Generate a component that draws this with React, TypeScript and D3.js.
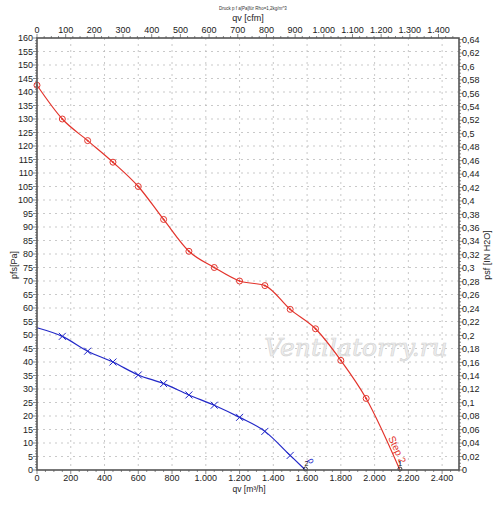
import React from 'react';
import * as d3 from 'd3';

// m³/h flow values of the measured points
const redFlow = [0, 150, 300, 450, 600, 750, 900, 1050, 1200, 1350, 1500, 1650, 1800, 1950, 2150];
const redPressure = [142.5, 130, 122, 114, 105, 92.8, 81, 75, 70, 68.3, 59.5, 52.3, 40.6, 26.5, 0];
const blueFlow = [0, 150, 300, 450, 600, 750, 900, 1050, 1200, 1350, 1500, 1590];
const bluePressure = [52.7, 49.5, 44, 40, 35.2, 32, 27.8, 24, 19.5, 14.3, 5.4, 0];

const flowTicks = [0, 200, 400, 600, 800, 1000, 1200, 1400, 1600, 1800, 2000, 2200, 2400];
const cfmTicks = [0, 100, 200, 300, 400, 500, 600, 700, 800, 900, 1000, 1100, 1200, 1300, 1400];
const paTicks = d3.range(0, 161, 5);
const inchTicks = d3.range(0, 33).map((i) => i * 0.02);

const W = 500;
const H = 506;
const m = { left: 37, right: 459, top: 38, bottom: 470 };
const FONT = 'Liberation Sans, Arial, sans-serif';

const x = d3.scaleLinear([0, 2500], [m.left, m.right]);
const xCfm = d3.scaleLinear([0, 2500 / 1.699], [m.left, m.right]);
const y = d3.scaleLinear([0, 160], [m.bottom, m.top]);
const yIn = d3.scaleLinear([0, 160 / 249.089], [m.bottom, m.top]);

const fmtThousand = (v: number) => (v >= 1000 ? d3.format(',')(v).replace(',', '.') : String(v));
const fmtComma = (v: number) => String(+v.toFixed(2)).replace('.', ',');

const line = d3
  .line<[number, number]>()
  .x((d) => x(d[0]))
  .y((d) => y(d[1]))
  .curve(d3.curveMonotoneX);

export default function App() {
  const red: [number, number][] = redFlow.map((f, i) => [f, redPressure[i]]);
  const blue: [number, number][] = blueFlow.map((f, i) => [f, bluePressure[i]]);
  const redCol = '#e3342c';
  const blueCol = '#2228c8';
  const axisCol = '#555';

  return (
    <svg width={W} height={H} style={{ position: 'absolute', left: 0, top: 0 }} fontFamily={FONT}>
      <rect width={W} height={H} fill="#fff" />
      <text x={253} y={10} fontSize={4.5} textAnchor="middle" fill="#333">
        Druck p f a[Pa]für Rho=1,2kg/m^3
      </text>
      <text x={248} y={21} fontSize={9} textAnchor="middle" fill="#222">
        qv [cfm]
      </text>

      {/* grid */}
      <g stroke="#bbb" strokeWidth={0.8} strokeDasharray="2,4">
        {flowTicks.slice(1).map((t) => (
          <line key={'gx' + t} x1={x(t)} x2={x(t)} y1={m.top} y2={m.bottom} />
        ))}
        {paTicks.slice(1, -1).map((t) => (
          <line key={'gy' + t} x1={m.left} x2={m.right} y1={y(t)} y2={y(t)} />
        ))}
      </g>

      {/* watermark */}
      <text
        x={356}
        y={356}
        fontSize={25}
        fontStyle="italic"
        fontFamily="DejaVu Serif, serif"
        textAnchor="middle"
        fill="#ededed"
        stroke="#d2d2d2"
        strokeWidth={0.6}
      >
        Ventilatorry.ru
      </text>

      {/* curves */}
      <path d={line(red) || ''} fill="none" stroke={redCol} strokeWidth={1.2} />
      <path d={line(blue) || ''} fill="none" stroke={blueCol} strokeWidth={1.2} />
      {red.slice(0, -1).map((d, i) => (
        <g key={'r' + i} stroke={redCol} fill="none" strokeWidth={1}>
          <circle cx={x(d[0])} cy={y(d[1])} r={3} />
          <circle cx={x(d[0])} cy={y(d[1])} r={0.6} fill={redCol} />
        </g>
      ))}
      {blue.slice(1, -1).map((d, i) => (
        <g key={'b' + i} stroke={blueCol} strokeWidth={1}>
          <line x1={x(d[0]) - 3.5} x2={x(d[0]) + 3.5} y1={y(d[1]) - 3.5} y2={y(d[1]) + 3.5} />
          <line x1={x(d[0]) - 3.5} x2={x(d[0]) + 3.5} y1={y(d[1]) + 3.5} y2={y(d[1]) - 3.5} />
        </g>
      ))}

      {/* end labels */}
      <text
        transform={`translate(${x(2150) - 12},${y(0) - 32}) rotate(65)`}
        fontSize={10}
        fill={redCol}
      >
        Step 2
      </text>
      <text transform={`translate(${x(1590) + 2},${y(0) - 10}) rotate(60)`} fontSize={9} fill={blueCol}>
        ρ
      </text>
      <g fill="none" stroke="#111" strokeWidth={0.8}>
        <circle cx={x(2150)} cy={y(0) - 1} r={2} />
        <circle cx={x(1590)} cy={y(0) - 1} r={2} />
      </g>
      <text x={x(2150)} y={y(0) - 4} fontSize={8} textAnchor="middle" fill="#111">
        1
      </text>
      <text x={x(1590) + 1} y={y(0) - 4} fontSize={7} textAnchor="middle" fill="#111">
        2
      </text>

      {/* frame */}
      <rect
        x={m.left}
        y={m.top}
        width={m.right - m.left}
        height={m.bottom - m.top}
        fill="none"
        stroke={axisCol}
        strokeWidth={1.6}
      />

      {/* axis ticks */}
      <g stroke={axisCol} strokeWidth={0.7}>
        {d3.range(0, 161, 1).map((t) => (
          <line key={'lm' + t} x1={m.left - (t % 5 === 0 ? 4 : 2)} x2={m.left} y1={y(t)} y2={y(t)} />
        ))}
        {d3.range(0, 0.641, 0.005).map((t, i) => (
          <line key={'rm' + i} x1={m.right} x2={m.right + (i % 4 === 0 ? 4 : 2)} y1={yIn(t)} y2={yIn(t)} />
        ))}
        {d3.range(0, 2501, 50).map((t) => (
          <line key={'bm' + t} x1={x(t)} x2={x(t)} y1={m.bottom} y2={m.bottom + (t % 200 === 0 ? 4 : 2)} />
        ))}
        {d3.range(0, 1471, 25).map((t) => (
          <line key={'tm' + t} x1={xCfm(t)} x2={xCfm(t)} y1={m.top} y2={m.top - (t % 100 === 0 ? 4 : 2)} />
        ))}
      </g>
      <g fontSize={9} fill="#222">
        {paTicks.map((t) => (
          <text key={'lt' + t} x={m.left - 4} y={y(t)} dy="0.35em" textAnchor="end">
            {t}
          </text>
        ))}
        {inchTicks.map((t, i) => (
          <text key={'rt' + i} x={m.right + 3} y={yIn(t)} dy="0.35em">
            {fmtComma(t)}
          </text>
        ))}
        {flowTicks.map((t) => (
          <text key={'bt' + t} x={x(t)} y={m.bottom + 11} textAnchor="middle">
            {fmtThousand(t)}
          </text>
        ))}
        {cfmTicks.map((t) => (
          <text key={'tt' + t} x={xCfm(t)} y={m.top - 5} textAnchor="middle">
            {fmtThousand(t)}
          </text>
        ))}
      </g>
      <text transform={`translate(17,265) rotate(-90)`} fontSize={9} textAnchor="middle" fill="#222">
        pfs[Pa]
      </text>
      <text transform={`translate(490,255) rotate(-90)`} fontSize={9} textAnchor="middle" fill="#222">
        psf [IN H2O]
      </text>
      <text x={249} y={492} fontSize={8.5} textAnchor="middle" fill="#222">
        qv [m³/h]
      </text>
    </svg>
  );
}
